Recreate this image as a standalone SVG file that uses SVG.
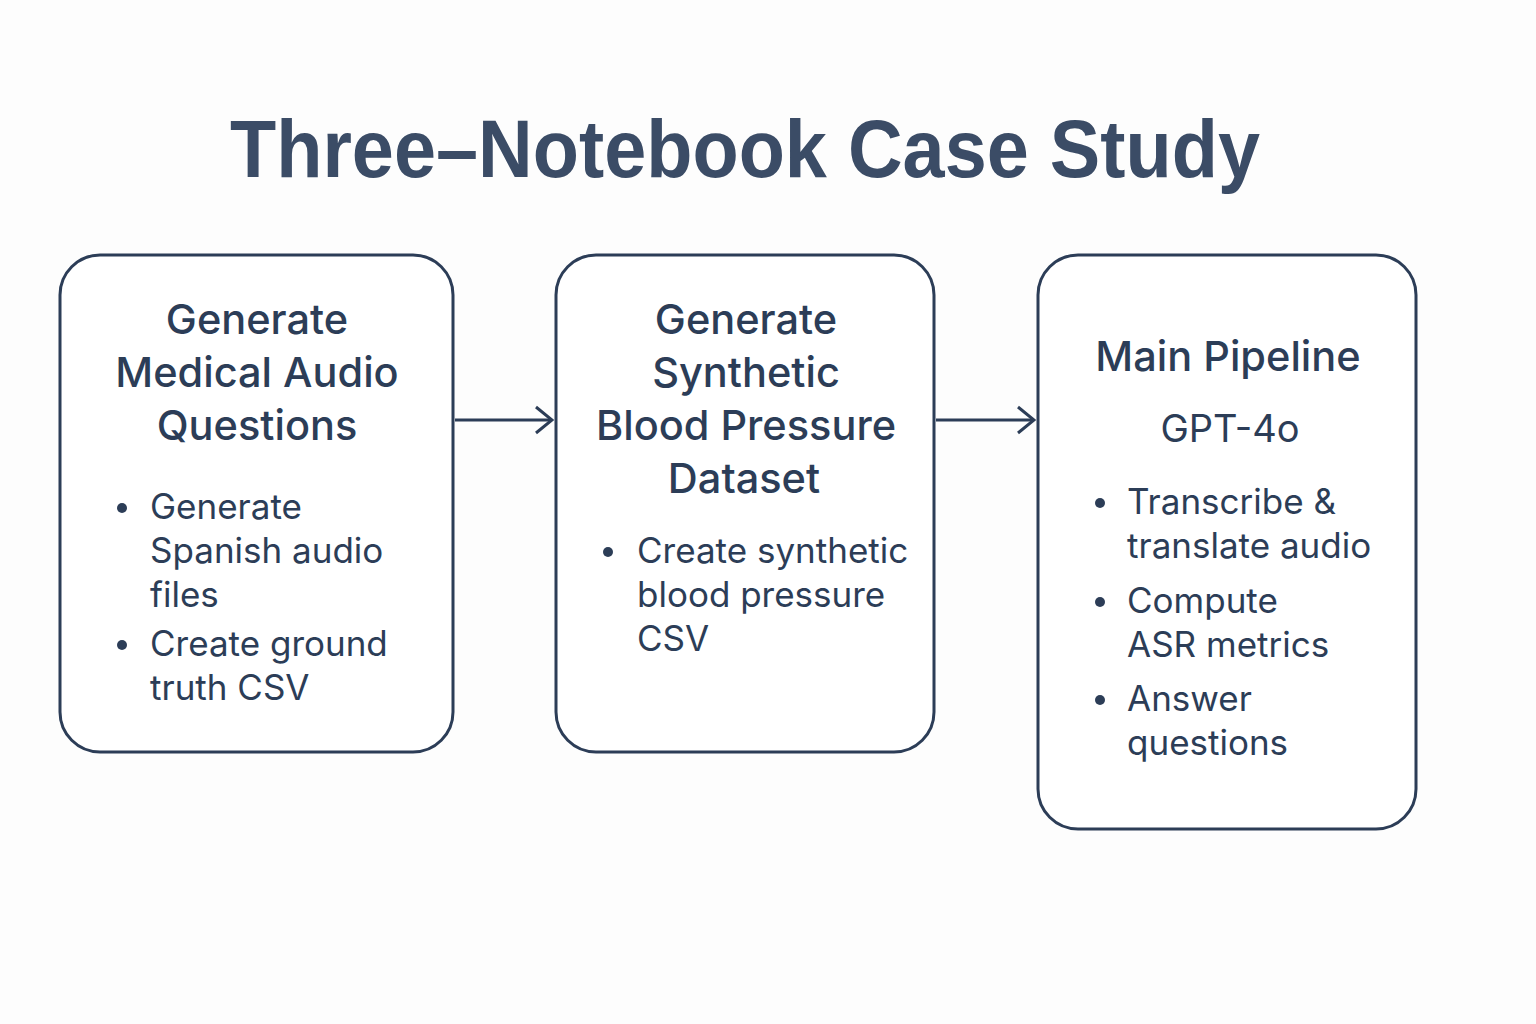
<svg xmlns="http://www.w3.org/2000/svg" width="1536" height="1024" viewBox="0 0 1536 1024">
<style>
.box{fill:#ffffff;stroke:#2c3d57;stroke-width:3}
.ttl{font-family:Inter,"Noto Sans",sans-serif;font-size:41.5px;font-weight:500;fill:#2c3d57;text-anchor:middle}
.sub{font-family:Inter,"Noto Sans",sans-serif;font-size:38px;font-weight:400;fill:#2c3d57;text-anchor:middle}
.bul{font-family:Inter,"Noto Sans",sans-serif;font-size:35px;font-weight:400;fill:#2c3d57}
.dot{fill:#2c3d57}
.con{stroke:#2c3d57;stroke-width:3;fill:none}
</style>
<defs>
<marker id="arr" viewBox="0 0 20 30" refX="18" refY="15" markerWidth="20" markerHeight="30" markerUnits="userSpaceOnUse" orient="auto">
<path d="M2,2 L18,15 L2,28" fill="none" stroke="#2c3d57" stroke-width="3"/>
</marker>
</defs>
<rect width="1536" height="1024" fill="#fdfdfd"/>
<text x="745" y="177" font-family="Liberation Sans, Arial, sans-serif" font-size="81" font-weight="bold" fill="#3b4c66" text-anchor="middle" textLength="1030" lengthAdjust="spacingAndGlyphs">Three–Notebook Case Study</text>
<g id="connectors">
<line class="con" x1="455" y1="420" x2="552" y2="420" marker-end="url(#arr)"/>
<line class="con" x1="936" y1="420" x2="1034" y2="420" marker-end="url(#arr)"/>
</g>
<g id="node1">
<rect class="box" x="60" y="255" width="393" height="497" rx="40"/>
<text class="ttl" x="257" y="334">Generate</text>
<text class="ttl" x="257" y="387">Medical Audio</text>
<text class="ttl" x="257" y="440">Questions</text>
<circle class="dot" cx="122" cy="508" r="5"/>
<text class="bul" x="150" y="519">Generate</text>
<text class="bul" x="150" y="563">Spanish audio</text>
<text class="bul" x="150" y="607">files</text>
<circle class="dot" cx="122" cy="645" r="5"/>
<text class="bul" x="150" y="656">Create ground</text>
<text class="bul" x="150" y="700">truth CSV</text>
</g>
<g id="node2">
<rect class="box" x="556" y="255" width="378" height="497" rx="40"/>
<text class="ttl" x="746" y="334">Generate</text>
<text class="ttl" x="746" y="387">Synthetic</text>
<text class="ttl" x="746" y="440">Blood Pressure</text>
<text class="ttl" x="744" y="493">Dataset</text>
<circle class="dot" cx="608" cy="552" r="5"/>
<text class="bul" x="637" y="563">Create synthetic</text>
<text class="bul" x="637" y="607">blood pressure</text>
<text class="bul" x="637" y="651">CSV</text>
</g>
<g id="node3">
<rect class="box" x="1038" y="255" width="378" height="574" rx="40"/>
<text class="ttl" x="1228" y="371" font-size="42.5">Main Pipeline</text>
<text class="sub" x="1230" y="442">GPT-4o</text>
<circle class="dot" cx="1100" cy="503" r="5"/>
<text class="bul" x="1127" y="514">Transcribe &amp;</text>
<text class="bul" x="1127" y="558">translate audio</text>
<circle class="dot" cx="1100" cy="602" r="5"/>
<text class="bul" x="1127" y="613">Compute</text>
<text class="bul" x="1127" y="657">ASR metrics</text>
<circle class="dot" cx="1100" cy="700" r="5"/>
<text class="bul" x="1127" y="711">Answer</text>
<text class="bul" x="1127" y="755">questions</text>
</g>
</svg>
